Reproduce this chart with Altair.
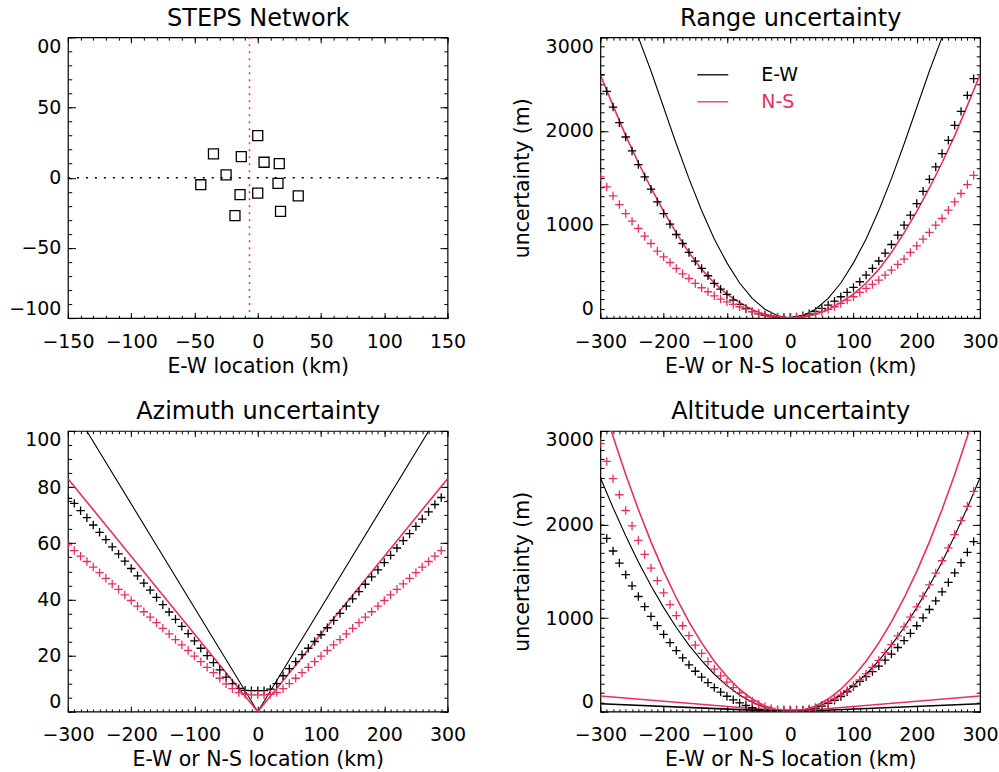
import altair as alt
import pandas as pd

RED = "#e8305a"
FONT = "DejaVu Sans"
W, H = 380, 281

# ---------------- Panel 1 : STEPS network ----------------
station_x = [0, -35, -13, 5, 17, -25, -45, 16, -14, 0, 32, 18, -18]
station_y = [30, 17, 15, 11, 10, 2, -5, -4, -12, -11, -13, -24, -27]
center_x = [-6.5]
center_y = [0]
net_x_major = [-150, -100, -50, 0, 50, 100, 150]
net_x_minor = list(range(-150, 151, 10))
net_y_major = [-100, -50, 0, 50, 100]
net_y_minor = list(range(-100, 101, 10))

# ---------------- shared x grids ----------------
sim_x = list(range(-300, 300, 10))      # simulated points (+ symbols)
theo_x = list(range(-300, 301, 20))     # theoretical curves
v_x = [-300, 0, 300]                    # straight (V-shaped) curves
loc_major = [-300, -200, -100, 0, 100, 200, 300]
loc_minor = list(range(-300, 301, 10))

# ---------------- Panel 2 : Range uncertainty (m) ----------------
range_ew_line = [4350, 3900, 3450, 3000, 2640, 2250, 1860, 1490, 1150, 845, 590, 375, 210, 95, 25, 0,
                 25, 95, 210, 375, 590, 845, 1150, 1490, 1860, 2250, 2640, 3000, 3450, 3900, 4350]
range_ns_line = [2600, 2270, 1950, 1660, 1390, 1140, 910, 700, 520, 375, 255, 165, 90, 40, 10, 0,
                 10, 40, 90, 165, 255, 375, 520, 700, 910, 1140, 1390, 1660, 1950, 2270, 2600]
range_ew_sim = [2600, 2423, 2255, 2088, 1935, 1786, 1640, 1508, 1377, 1241, 1117, 1003, 893, 797, 701,
                608, 530, 452, 370, 309, 253, 192, 146, 103, 68, 45, 28, 15, 8, 5,
                5, 12, 25, 45, 70, 103, 139, 181, 228, 274, 327, 388, 459, 530, 610,
                695, 786, 886, 993, 1100, 1224, 1355, 1483, 1615, 1758, 1900, 2060, 2209, 2380, 2558]
range_ns_sim = [1508, 1401, 1305, 1213, 1117, 1035, 957, 875, 797, 715, 654, 594, 530, 473, 423,
                370, 324, 281, 238, 203, 174, 146, 121, 96, 68, 50, 35, 22, 12, 6,
                5, 8, 15, 28, 45, 68, 93, 121, 156, 192, 228, 274, 317, 359, 406,
                459, 512, 573, 630, 701, 772, 843, 915, 993, 1064, 1153, 1241, 1331, 1427, 1526]
unc_major = [0, 1000, 2000, 3000]
unc_minor = list(range(0, 3001, 100))

# ---------------- Panel 3 : Azimuth uncertainty ----------------
az_ew_line = [111, 0, 111]
az_ns_line = [83, 0, 83]
az_ew_sim = [76.0, 74.2, 71.6, 69.1, 66.5, 63.9, 61.3, 58.7, 56.2, 53.6, 51.0, 48.4, 45.8, 43.3, 40.7,
             38.1, 35.5, 32.9, 30.4, 27.8, 25.2, 22.6, 20.0, 17.5, 14.9, 12.3, 10.0, 8.3, 7.6, 7.5,
             7.5, 7.5, 8.0, 10.0, 12.8, 15.3, 17.8, 20.3, 22.6, 25.0, 27.4, 29.9, 32.5, 35.0, 37.6,
             40.2, 42.8, 45.4, 48.0, 50.5, 53.1, 55.7, 58.3, 60.9, 63.4, 66.0, 68.6, 71.2, 73.8, 76.3]
az_ns_sim = [59.4, 57.4, 55.4, 53.5, 51.5, 49.5, 47.5, 45.5, 43.6, 41.6, 39.6, 37.6, 35.6, 33.7, 31.7,
             29.7, 27.7, 25.7, 23.8, 21.8, 19.8, 17.8, 15.8, 13.9, 11.9, 9.9, 8.2, 6.8, 6.2, 6.0,
             6.0, 6.0, 6.2, 6.8, 8.2, 10.0, 11.9, 13.9, 15.8, 17.8, 19.8, 21.8, 23.8, 25.7, 27.7,
             29.7, 31.7, 33.7, 35.6, 37.6, 39.6, 41.6, 43.6, 45.5, 47.5, 49.5, 51.5, 53.5, 55.4, 57.4]
az_major = [0, 20, 40, 60, 80, 100]
az_minor = list(range(0, 101, 5))

# ---------------- Panel 4 : Altitude uncertainty (m) ----------------
alt_ns_line = [3375, 2940, 2535, 2160, 1815, 1500, 1215, 960, 735, 540, 375, 240, 135, 60, 15, 0,
               15, 60, 135, 240, 375, 540, 735, 960, 1215, 1500, 1815, 2160, 2535, 2940, 3375]
alt_ew_line = [2500, 2180, 1880, 1600, 1345, 1112, 900, 712, 545, 400, 278, 178, 100, 44, 11, 0,
               11, 44, 100, 178, 278, 400, 545, 712, 900, 1112, 1345, 1600, 1880, 2180, 2500]
alt_ns_low = [167, 0, 167]
alt_ew_low = [85, 0, 85]
alt_ns_sim = [2865, 2675, 2490, 2318, 2150, 1985, 1830, 1680, 1535, 1400, 1270, 1145, 1027, 918, 812,
              712, 622, 535, 455, 383, 315, 256, 202, 155, 114, 80, 52, 34, 24, 20,
              20, 20, 22, 30, 45, 70, 101, 137, 179, 227, 280, 339, 403, 473, 549,
              630, 717, 809, 907, 1011, 1120, 1235, 1355, 1481, 1613, 1750, 1893, 2041, 2195, 2355]
alt_ew_sim = [1990, 1851, 1717, 1588, 1464, 1345, 1231, 1122, 1018, 919, 826, 737, 653, 575, 501,
              432, 369, 310, 257, 209, 165, 127, 94, 66, 42, 24, 15, 12, 12, 12,
              12, 12, 16, 24, 38, 60, 88, 122, 162, 212, 268, 323, 374, 429, 487,
              550, 616, 686, 760, 837, 918, 1003, 1092, 1184, 1281, 1381, 1484, 1592, 1703, 1818]

PLUS = "M-1,0H1M0,-1V1"
LABEL_FS = 19
TITLE_FS = 20.5
PANEL_FS = 24


def carriers(xdom, ydom, xmaj, xmin, ymaj, ymin, xtitle, ytitle, ttl, ylabel_expr=None):
    """Invisible layers that carry the labelled axes, panel title and IDL-style inward ticks."""
    xs = alt.Scale(domain=xdom, nice=False, zero=False)
    ys = alt.Scale(domain=ydom, nice=False, zero=False)
    df = pd.DataFrame({"x": xdom, "y": ydom})
    xt, yt = 5.6, 7.6
    plain = dict(grid=False, domain=False, labels=False, title=None, tickColor="black", tickWidth=1)
    xaxes = [
        alt.Axis(orient="bottom", values=xmaj, ticks=False, tickSize=0, domain=False, grid=False,
                 labelFlush=False, labelPadding=14, labelOverlap=False, title=xtitle, titlePadding=5),
        alt.Axis(orient="top", offset=-H, values=xmaj, tickSize=xt, **plain),
        alt.Axis(orient="top", offset=-H, values=xmin, tickSize=xt / 2, **plain),
        alt.Axis(orient="bottom", offset=-H, values=xmaj, tickSize=xt, **plain),
        alt.Axis(orient="bottom", offset=-H, values=xmin, tickSize=xt / 2, **plain),
        # panel title carried by a bare top axis
        alt.Axis(orient="top", values=xmaj, ticks=False, tickSize=0, labels=False, domain=False,
                 grid=False, title=ttl, titleFontSize=PANEL_FS, titleBaseline="alphabetic",
                 titlePadding=12),
    ]
    ylab = dict(orient="left", values=ymaj, ticks=False, tickSize=0, domain=False, grid=False,
                labelFlush=True, labelPadding=7, labelOverlap=False, format="d")
    if ytitle:
        ylab.update(title=ytitle, titlePadding=13)
    else:
        ylab.update(title=None)
    if ylabel_expr:
        ylab.update(labelExpr=ylabel_expr)
    yaxes = [
        alt.Axis(**ylab),
        alt.Axis(orient="right", offset=-W, values=ymaj, tickSize=yt, **plain),
        alt.Axis(orient="right", offset=-W, values=ymin, tickSize=yt / 2, **plain),
        alt.Axis(orient="left", offset=-W, values=ymaj, tickSize=yt, **plain),
        alt.Axis(orient="left", offset=-W, values=ymin, tickSize=yt / 2, **plain),
        None,
    ]
    return [
        alt.Chart(df).mark_point(opacity=0).encode(
            x=alt.X("x:Q", scale=xs, axis=xa), y=alt.Y("y:Q", scale=ys, axis=ya))
        for xa, ya in zip(xaxes, yaxes)
    ], xs, ys


def line(xv, yv, xs, ys, color, width):
    df = pd.DataFrame({"x": xv, "y": yv})
    return alt.Chart(df).mark_line(color=color, strokeWidth=width, clip=True).encode(
        x=alt.X("x:Q", scale=xs, axis=None), y=alt.Y("y:Q", scale=ys, axis=None))


def pluses(xv, yv, xs, ys, color):
    df = pd.DataFrame({"x": xv, "y": yv})
    return alt.Chart(df).mark_point(shape=PLUS, filled=False, size=72, strokeWidth=1.3,
                                    color=color, opacity=1, clip=True).encode(
        x=alt.X("x:Q", scale=xs, axis=None), y=alt.Y("y:Q", scale=ys, axis=None))


def panel(layers_fn, xdom, ydom, xmaj, xmin, ymaj, ymin, xtitle, ytitle, ttl, ylabel_expr=None):
    car, xs, ys = carriers(xdom, ydom, xmaj, xmin, ymaj, ymin, xtitle, ytitle, ttl, ylabel_expr)
    return alt.layer(*car, *layers_fn(xs, ys)).resolve_axis(
        x="independent", y="independent").properties(width=W, height=H)


# ---- Panel 1 layers
def p1_layers(xs, ys):
    st = pd.DataFrame({"x": station_x, "y": station_y})
    squares = alt.Chart(st).mark_point(shape="square", filled=False, size=100, strokeWidth=1.3,
                                       color="black", opacity=1).encode(
        x=alt.X("x:Q", scale=xs, axis=None), y=alt.Y("y:Q", scale=ys, axis=None))
    hline = alt.Chart(pd.DataFrame({"y": center_y})).mark_rule(
        color="black", strokeDash=[2, 7], strokeWidth=1.5).encode(
        y=alt.Y("y:Q", scale=ys, axis=None))
    vline = alt.Chart(pd.DataFrame({"x": center_x})).mark_rule(
        color=RED, strokeDash=[2, 5], strokeWidth=1.5).encode(
        x=alt.X("x:Q", scale=xs, axis=None))
    return [hline, vline, squares]


# ---- Panel 2 layers (with legend)
def p2_layers(xs, ys):
    cscale = alt.Scale(domain=["E-W", "N-S"], range=["black", RED])
    leg = alt.Legend(title=None, orient="none", legendX=96, legendY=21, symbolType="stroke",
                     symbolSize=961, symbolStrokeWidth=1.3, labelOffset=32, rowPadding=-2,
                     padding=0, labelFont=FONT, labelFontSize=LABEL_FS,
                     labelColor=alt.ExprRef(expr="datum.label == 'N-S' ? '%s' : 'black'" % RED))
    ew = pd.DataFrame({"x": theo_x, "y": range_ew_line, "s": ["E-W"] * len(theo_x)})
    ns = pd.DataFrame({"x": theo_x, "y": range_ns_line, "s": ["N-S"] * len(theo_x)})
    l1 = alt.Chart(ew).mark_line(strokeWidth=1.1, clip=True).encode(
        x=alt.X("x:Q", scale=xs, axis=None), y=alt.Y("y:Q", scale=ys, axis=None),
        color=alt.Color("s:N", scale=cscale, legend=leg))
    l2 = alt.Chart(ns).mark_line(strokeWidth=1.6, clip=True).encode(
        x=alt.X("x:Q", scale=xs, axis=None), y=alt.Y("y:Q", scale=ys, axis=None),
        color=alt.Color("s:N", scale=cscale, legend=leg))
    return [l1, l2,
            pluses(sim_x, range_ew_sim, xs, ys, "black"),
            pluses(sim_x, range_ns_sim, xs, ys, RED)]


def p3_layers(xs, ys):
    return [line(v_x, az_ew_line, xs, ys, "black", 1.1),
            line(v_x, az_ns_line, xs, ys, RED, 1.6),
            pluses(sim_x, az_ew_sim, xs, ys, "black"),
            pluses(sim_x, az_ns_sim, xs, ys, RED)]


def p4_layers(xs, ys):
    return [line(theo_x, alt_ew_line, xs, ys, "black", 1.1),
            line(theo_x, alt_ns_line, xs, ys, RED, 1.6),
            line(v_x, alt_ew_low, xs, ys, "black", 1.6),
            line(v_x, alt_ns_low, xs, ys, RED, 1.6),
            pluses(sim_x, alt_ew_sim, xs, ys, "black"),
            pluses(sim_x, alt_ns_sim, xs, ys, RED)]


LOC = "E-W or N-S location (km)"
p1 = panel(p1_layers, [-150, 150], [-100, 100], net_x_major, net_x_minor, net_y_major, net_y_minor,
           "E-W location (km)", None, "STEPS Network",
           ylabel_expr="datum.value == 100 ? '00' : datum.label")
p2 = panel(p2_layers, [-300, 300], [0, 3000], loc_major, loc_minor, unc_major, unc_minor,
           LOC, "uncertainty (m)", "Range uncertainty")
p3 = panel(p3_layers, [-300, 300], [0, 100], loc_major, loc_minor, az_major, az_minor,
           LOC, None, "Azimuth uncertainty")
p4 = panel(p4_layers, [-300, 300], [0, 3000], loc_major, loc_minor, unc_major, unc_minor,
           LOC, "uncertainty (m)", "Altitude uncertainty")

chart = alt.concat(
    p1, p2, p3, p4, columns=2, spacing={"row": 113, "column": 153}, bounds="flush",
    padding={"left": 8, "top": 5, "right": 0, "bottom": 0},
).resolve_scale(color="independent").configure(
    background="white"
).configure_view(
    stroke="black", strokeWidth=1.2
).configure_axis(
    labelFont=FONT, titleFont=FONT, labelFontSize=LABEL_FS, titleFontSize=TITLE_FS,
    labelColor="black", titleColor="black", titleFontWeight="normal", grid=False
).configure_legend(labelFont=FONT, labelFontSize=LABEL_FS)

chart.save("out.html", embed_options={"renderer": "svg", "actions": False})
